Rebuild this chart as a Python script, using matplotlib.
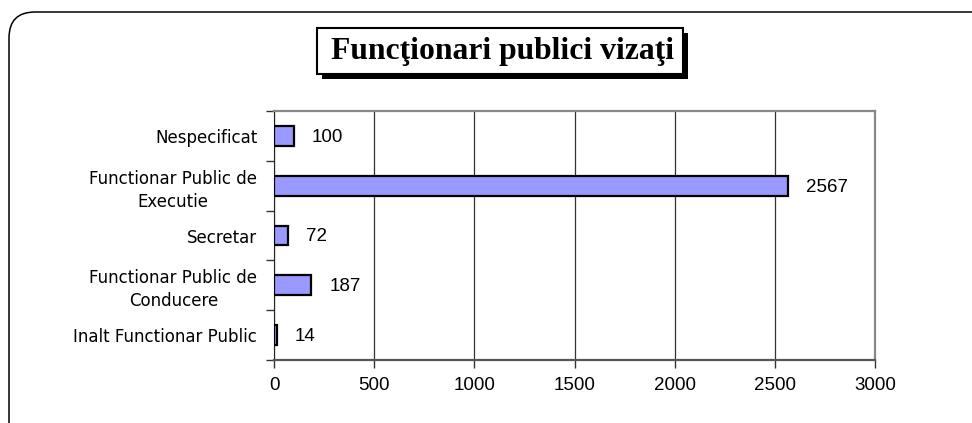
import matplotlib
matplotlib.use('Agg')
import matplotlib.pyplot as plt
from matplotlib.patches import FancyBboxPatch, Rectangle
import numpy as np

# Data (bottom to top)
categories = ['Inalt Functionar Public', 'Functionar Public de\nConducere', 'Secretar',
              'Functionar Public de\nExecutie', 'Nespecificat']
values = [14, 187, 72, 2567, 100]
xticks = [0, 500, 1000, 1500, 2000, 2500, 3000]
title = 'Funcţionari publici vizaţi'

W, H = 972, 423
fig = plt.figure(figsize=(W / 100, H / 100), dpi=100)

# background layer in pixel units for the frame and title box
bg = fig.add_axes([0, 0, 1, 1])
bg.set_xlim(0, W)
bg.set_ylim(H, 0)
bg.axis('off')
bg.add_patch(FancyBboxPatch((9, 12), 1000, 450, boxstyle='round,pad=0,rounding_size=26',
                            facecolor='white', edgecolor='black', linewidth=1.1))
bg.add_patch(Rectangle((322, 33), 366, 46, facecolor='black', edgecolor='none'))
bg.add_patch(Rectangle((317, 28), 366, 46, facecolor='white', edgecolor='black', linewidth=1.5))
bg.text(503, 51, title, ha='center', va='center', fontsize=22.8, fontweight='bold',
        family='Liberation Serif')

# main chart
ax = fig.add_axes([274 / W, 1 - 360 / H, (875 - 274) / W, (360 - 111) / H])
y = np.arange(len(categories))
ax.barh(y, values, height=0.4, color='#9999FF', edgecolor='black', linewidth=1.6, zorder=3)

for yi, v in zip(y, values):
    ax.text(v + 90, yi - 0.03, str(v), va='center', ha='left', fontsize=13.5,
            family='Liberation Sans')

ax.set_xlim(0, 3000)
ax.set_ylim(-0.5, len(categories) - 0.5)
ax.set_xticks(xticks)
ax.set_xticklabels([str(t) for t in xticks], fontsize=13.5, family='Liberation Sans')
ax.set_yticks(y)
ax.set_yticklabels(categories, fontsize=12, multialignment='center', linespacing=1.35)
ax.tick_params(axis='y', length=0, pad=12)
ax.set_yticks(np.arange(len(categories) + 1) - 0.5, minor=True)
ax.tick_params(axis='y', which='minor', length=6, width=1, color='#333333', direction='out')
ax.tick_params(axis='x', length=6, width=1, color='#333333', direction='out', pad=6)
ax.grid(axis='x', color='#333333', linewidth=0.9, zorder=0)

ax.spines['left'].set_color('#222222')
ax.spines['bottom'].set_color('#555555')
ax.spines['bottom'].set_linewidth(1.6)
for s in ['top', 'right']:
    ax.spines[s].set_color('#888888')
    ax.spines[s].set_linewidth(1.6)

fig.savefig('out.png', dpi=100)
